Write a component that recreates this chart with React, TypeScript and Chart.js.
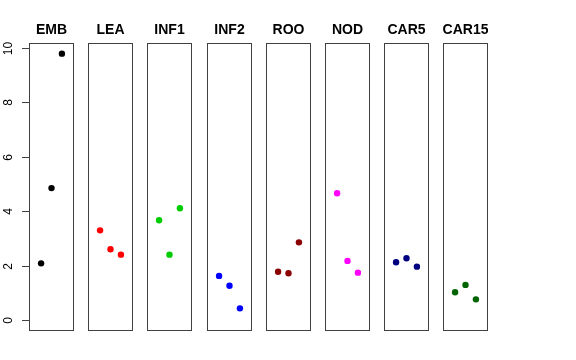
import React, { useEffect, useRef } from "react";
import { Chart, registerables } from "chart.js";

Chart.register(...registerables);

const panelNames = ["EMB", "LEA", "INF1", "INF2", "ROO", "NOD", "CAR5", "CAR15"];
const panelColors = ["#000000", "#FF0000", "#00CD00", "#0000FF", "#8B0000", "#FF00FF", "#000080", "#006400"];

const EMB = [2.09, 4.85, 9.78];
const LEA = [3.3, 2.61, 2.41];
const INF1 = [3.67, 2.41, 4.11];
const INF2 = [1.63, 1.27, 0.44];
const ROO = [1.78, 1.73, 2.86];
const NOD = [4.66, 2.18, 1.75];
const CAR5 = [2.13, 2.28, 1.97];
const CAR15 = [1.03, 1.3, 0.77];

const panelValues = [EMB, LEA, INF1, INF2, ROO, NOD, CAR5, CAR15];
const sampleX = [1, 2, 3];
const yTicks = [0, 2, 4, 6, 8, 10];

const FONT = "'Liberation Sans', Arial, Helvetica, sans-serif";

function Panel({ index }: { index: number }) {
  const ref = useRef<HTMLCanvasElement | null>(null);
  const isFirst = index === 0;
  const boxLeft = Math.round(29 + 59.2 * index);
  const boxWidth = 45;
  const canvasLeft = isFirst ? 0 : boxLeft;
  const canvasWidth = isFirst ? boxLeft + boxWidth : boxWidth;

  useEffect(() => {
    const canvas = ref.current;
    if (!canvas) return;
    const vals = panelValues[index];
    const color = panelColors[index];
    const decor = {
      id: "decor" + index,
      afterDraw(chart: any) {
        const ctx = chart.ctx;
        const a = chart.chartArea;
        ctx.save();
        ctx.strokeStyle = "#404040";
        ctx.lineWidth = 1;
        ctx.strokeRect(Math.round(a.left) + 0.5, Math.round(a.top) + 0.5, Math.round(a.right - a.left) - 1, Math.round(a.bottom - a.top) - 1);
        ctx.fillStyle = "#000";
        ctx.font = "bold 14px " + FONT;
        ctx.textAlign = "center";
        ctx.textBaseline = "alphabetic";
        ctx.fillText(panelNames[index], (a.left + a.right) / 2, a.top - 9);
        if (isFirst) {
          const ys = chart.scales.y;
          ctx.font = "12px " + FONT;
          ctx.textAlign = "center";
          ctx.textBaseline = "middle";
          for (const t of ys.ticks) {
            const py = Math.round(ys.getPixelForValue(t.value)) + 0.5;
            ctx.beginPath();
            ctx.moveTo(Math.round(a.left) - 7, py);
            ctx.lineTo(Math.round(a.left), py);
            ctx.stroke();
            ctx.save();
            ctx.translate(9, py);
            ctx.rotate(-Math.PI / 2);
            ctx.fillText(String(t.value), 0, 0);
            ctx.restore();
          }
        }
        ctx.restore();
      },
    };
    const chart = new Chart(canvas, {
      type: "scatter",
      data: {
        datasets: [
          {
            data: vals.map((v, i) => ({ x: sampleX[i], y: v })),
            backgroundColor: color,
            borderColor: color,
            borderWidth: 0,
            pointRadius: 3.2,
            pointHoverRadius: 3.2,
          },
        ],
      },
      options: {
        animation: false,
        responsive: false,
        maintainAspectRatio: false,
        events: [],
        layout: { autoPadding: false, padding: { top: 43, bottom: 29, left: 0, right: 0 } },
        plugins: { legend: { display: false }, tooltip: { enabled: false }, title: { display: false } },
        scales: {
          x: { type: "linear", min: -0.16, max: 4.16, display: false },
          y: {
            type: "linear",
            min: -0.39,
            max: 10.17,
            display: isFirst,
            afterBuildTicks: (s: any) => {
              s.ticks = yTicks.map((v) => ({ value: v }));
            },
            afterFit: (s: any) => {
              s.width = isFirst ? boxLeft : 0;
            },
            ticks: { display: false },
            grid: { display: false },
            border: { display: false },
          },
        },
      },
      plugins: [decor],
    });
    return () => chart.destroy();
  }, [index]);

  return (
    <canvas
      ref={ref}
      width={canvasWidth}
      height={360}
      style={{ position: "absolute", left: canvasLeft, top: 0, width: canvasWidth, height: 360 }}
    />
  );
}

export default function App() {
  return (
    <div style={{ position: "fixed", left: 0, top: 0, width: 576, height: 360, background: "#fff", overflow: "hidden" }}>
      {panelNames.map((n, i) => (
        <Panel key={n} index={i} />
      ))}
    </div>
  );
}
